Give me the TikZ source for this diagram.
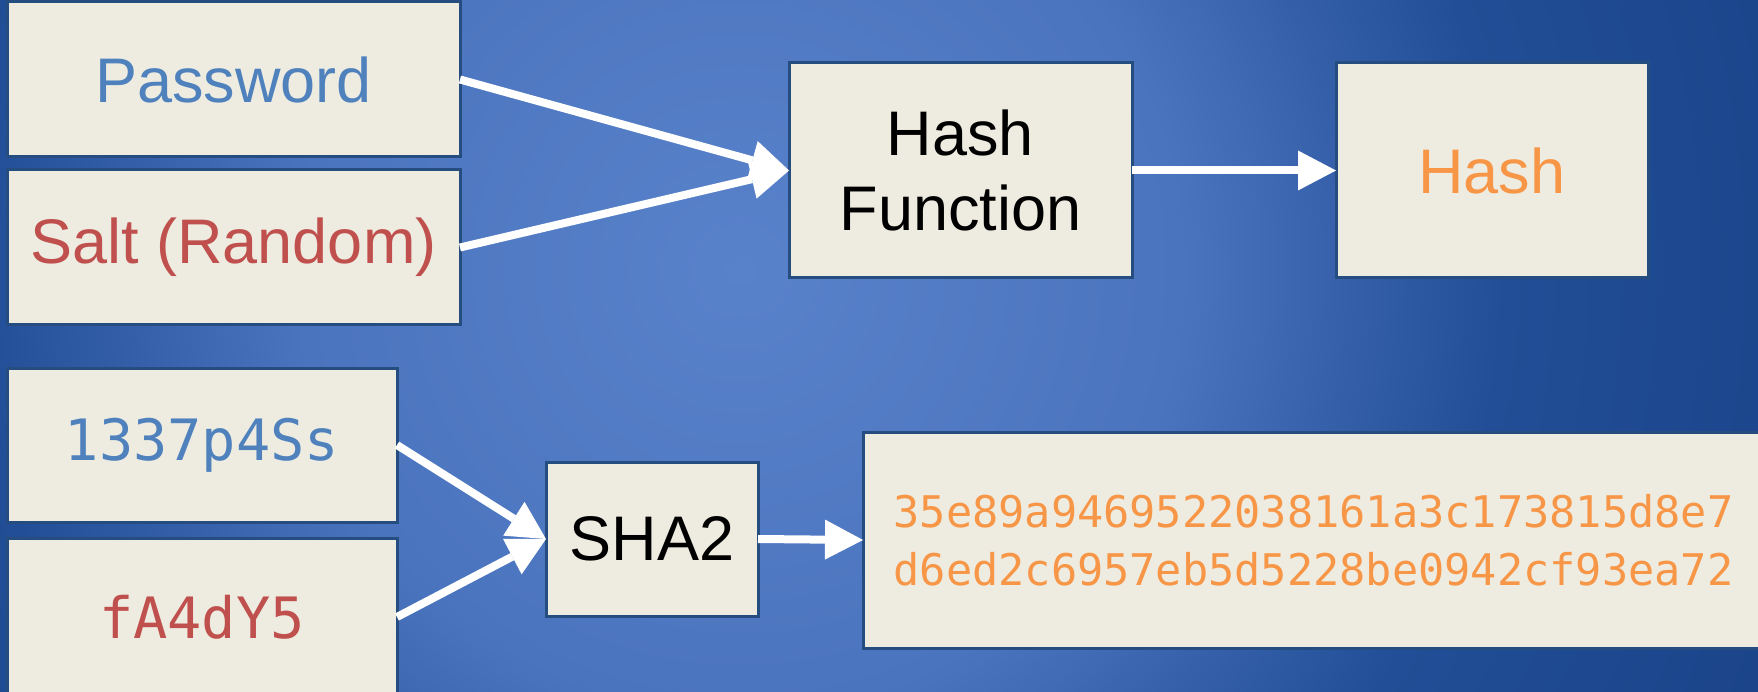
\documentclass[tikz,border=0pt]{standalone}
\usepackage{fontspec}
\setmainfont{Liberation Sans}
\newfontfamily\monof{DejaVu Sans Mono}
\usetikzlibrary{arrows.meta}
\definecolor{bgA}{HTML}{5882CA}
\definecolor{bgB}{HTML}{4B74BE}
\definecolor{bgC}{HTML}{214E96}
\definecolor{bgD}{HTML}{1B448A}
\definecolor{boxfill}{HTML}{EEECE1}
\definecolor{boxline}{HTML}{264D80}
\definecolor{pblue}{HTML}{4F81BD}
\definecolor{pred}{HTML}{C0504D}
\definecolor{porange}{HTML}{F79646}
\pgfdeclareradialshading{bgshade}{\pgfpoint{0bp}{0bp}}{color(0bp)=(bgA); color(440bp)=(bgB); color(760bp)=(bgC); color(1100bp)=(bgD); color(1500bp)=(bgD)}
\tikzset{
  box/.style={draw=boxline, line width=3pt, fill=boxfill, inner sep=0pt, outer sep=0pt, align=center},
  sansbig/.style={font=\fontsize{63}{75}\selectfont},
  monobig/.style={font=\monof\fontsize{57}{68}\selectfont},
  monosmall/.style={font=\monof\fontsize{43.6}{58}\selectfont},
  conn/.style={draw=white, line width=8pt, -{Triangle[length=38pt,width=40pt,line width=0pt]}}
}
\begin{document}
\begin{tikzpicture}[x=1pt,y=-1pt]
\useasboundingbox (0,0) rectangle (1758,692);
\begin{scope}
  \clip (0,0) rectangle (1758,692);
  \fill[bgD] (0,0) rectangle (1758,692);
  \node[inner sep=0pt, outer sep=0pt] (bg) at (740,270) {\pgfuseshading{bgshade}};
\end{scope}

\node[box, sansbig, text=pblue, minimum width=453pt, minimum height=155pt] (pw) at (233.5,79.5) {Password};
\node[box, sansbig, text=pred, minimum width=453pt, minimum height=155pt] (salt) at (233.5,247.5) {Salt (Random)};
\node[box, sansbig, text=black, minimum width=343pt, minimum height=215pt] (hf) at (960.5,170.5) {Hash\\Function};
\node[box, sansbig, text=porange, minimum width=312pt, minimum height=215pt] (hash) at (1492,170.5) {Hash};

\node[box, monobig, text=pblue, minimum width=390pt, minimum height=154pt] (p1337) at (202,445) {1337p4Ss};
\node[box, monobig, text=pred, minimum width=390pt, minimum height=158pt] (fa) at (202,617) {fA4dY5};
\node[box, sansbig, text=black, minimum width=212pt, minimum height=154pt] (sha) at (652,539) {SHA2};
\node[box, monosmall, text=porange, minimum width=901pt, minimum height=216pt] (out) at (1313.5,540) {35e89a9469522038161a3c173815d8e7\\d6ed2c6957eb5d5228be0942cf93ea72};

\draw[conn] (pw.east) -- (hf.west);
\draw[conn] (salt.east) -- (hf.west);
\draw[conn] (hf.east) -- (hash.west);
\draw[conn] (p1337.east) -- (sha.west);
\draw[conn] (fa.east) -- (sha.west);
\draw[conn] (sha.east) -- (out.west);
\end{tikzpicture}
\end{document}
